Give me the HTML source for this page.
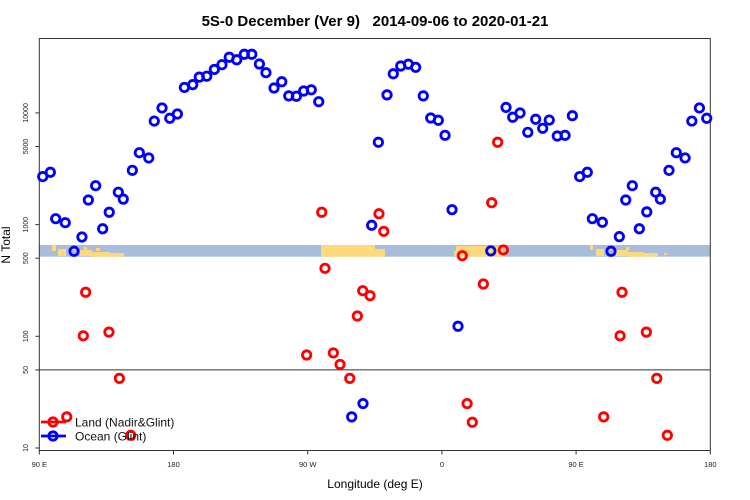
<!DOCTYPE html>
<html><head><meta charset="utf-8">
<style>
html,body{margin:0;padding:0;background:#fff;}
svg{display:block;font-family:"Liberation Sans",sans-serif;}
</style></head>
<body>
<svg id="chart" width="750" height="500" viewBox="0 0 750 500" xmlns="http://www.w3.org/2000/svg">
<text x="375" y="26" text-anchor="middle" font-size="15" font-weight="bold" style="white-space:pre" xml:space="preserve">5S-0 December (Ver 9)   2014-09-06 to 2020-01-21</text>
<g id="strip"></g>
<g id="axes"></g>
<g id="marks"></g>
<g id="legend"></g>
</svg>
<script>
const yTicks = [10, 50, 100, 500, 1000, 5000, 10000];
const xTickLons = [90, 180, 270, 360, 450, 540];
const xTickLabels = ["90 E", "180", "90 W", "0", "90 E", "180"];
const oceanLon = [92.3,97.4,101,107.4,113.3,118.6,122.9,127.8,132.5,136.9,143,146.3,152.4,157.1,163.4,167.1,172.3,177.5,182.6,187.3,192.9,197.3,202.3,207.4,212.5,217.4,222.4,227.5,232.5,237.6,242,247.4,252.6,257.3,262.4,267.3,272.4,277.4,299.5,307.1,312.9,317.4,323.2,327.4,332.4,337.5,342.4,347.5,352.5,357.6,362.1,366.8,370.8,392.8,403,407.5,412.4,417.6,422.9,427.6,432,437.4,442.6,447.5,452.4,457.5,460.9,467.6,473.4,479,483.3,487.7,492.4,497.4,503.4,506.5,512.3,517.2,523.1,527.6,532.7,537.6];
const oceanN = [2690,2940,1130,1040,577,774,1660,2230,918,1290,1950,1690,3060,4400,3950,8450,11070,8950,9780,16900,17900,20900,21300,24500,27000,31500,29900,33500,33500,27400,22900,16700,19000,14200,14100,15700,16100,12600,19,25,986,5460,14500,22400,26300,27300,25600,14200,9000,8590,6300,1360,123,581,11200,9140,9980,6700,8770,7280,8630,6210,6300,9440,2690,2940,1130,1050,577,780,1660,2230,918,1300,1950,1690,3060,4400,3950,8450,11070,8950];
const landLon = [108.4,119.5,121.1,136.7,143.7,151.3,269.3,279.4,281.6,287.2,291.7,298.2,303.3,306.9,311.8,317.8,321,373.7,376.9,380.4,387.8,393.4,397.4,401.2,468.5,479.5,480.8,497.1,504.1,511.2];
const landN = [19,101,248,109,42,13,68,1290,406,71,56,42,152,256,231,1250,871,527,25,17,294,1570,5460,593,19,101,248,109,42,13];

const NS='http://www.w3.org/2000/svg';
const L=39.3,R=710.3,T=38.5,B=450.5;
const xS=l=>L+(l-90)*(R-L)/450;
const yS=v=>448-111.7*Math.log10(v/10);
function mk(tag,attrs,parent){const e=document.createElementNS(NS,tag);for(const k in attrs)e.setAttribute(k,attrs[k]);parent.appendChild(e);return e;}

const strip=document.getElementById('strip');
const sb=mk('rect',{x:L,y:245,width:R-L,height:11.7,fill:'#a7bddb'},strip);


const lands=[[321,245,54,11.7],[375,249,10,7.7],[456,246,47,10.7],[454,251,4,5],[52,245,4,6],[58,249,8,7],[70,246,6,4],[80,250,12,6],[92,252,18,4.7],[110,253,14,3.7],[84,247,3,3],[96,248,4,3],[590,245,3,5],[596,249,8,7],[608,246,4,4],[616,250,12,6],[628,252,16,4.7],[644,253,14,3.7],[626,247,3,3],[664,253,3,2]];
lands.forEach(a=>{
  const r=mk('rect',{x:a[0],y:a[1],width:a[2],height:a[3],fill:'#fdd97c'},strip);
  
  
});

const ax=document.getElementById('axes');
const box=mk('rect',{x:L,y:T,width:R-L,height:B-T,fill:'none',stroke:'#333','stroke-width':1},ax);


const ref=mk('line',{x1:L,x2:R,y1:yS(50),y2:yS(50),stroke:'#333','stroke-width':1},ax);


yTicks.forEach(v=>{
  const y=yS(v);
  const t=mk('line',{x1:L-4,x2:L,y1:y,y2:y,stroke:'#333'},ax);
  
  
  const tx=mk('text',{x:0,y:0,'font-size':7,'text-anchor':'middle',transform:`translate(28,${y}) rotate(-90)`,fill:'#222'},ax);
  tx.textContent=v;
  
  
});
xTickLons.forEach((l,i)=>{
  const x=xS(l);
  const t=mk('line',{x1:x,x2:x,y1:B,y2:B+4,stroke:'#333'},ax);
  
  
  const tx=mk('text',{x:x,y:467,'font-size':7.5,'text-anchor':'middle',fill:'#222'},ax);
  tx.textContent=xTickLabels[i];
  
  
});
const xl=mk('text',{x:375,y:488,'font-size':12,'text-anchor':'middle'},ax);
xl.textContent='Longitude (deg E)';


const yl=mk('text',{x:0,y:0,'font-size':12,'text-anchor':'middle',transform:'translate(10,245) rotate(-90)'},ax);
yl.textContent='N Total';



const mg=document.getElementById('marks');
oceanLon.forEach((l,i)=>{
  const c=mk('circle',{cx:xS(l),cy:yS(oceanN[i]),r:4.2,fill:'none',stroke:'#0000ff','stroke-width':2.8},mg);
  
  
});
landLon.forEach((l,i)=>{
  const c=mk('circle',{cx:xS(l),cy:yS(landN[i]),r:4.2,fill:'none',stroke:'#ff0000','stroke-width':2.8},mg);
  
  
});

const lg=document.getElementById('legend');
[['Land (Nadir&Glint)','#ff0000',422,'legend-entry-land'],['Ocean (Glint)','#0000ff',436,'legend-entry-ocean']].forEach(e=>{
  const g=mk('g',{},lg);
  
  
  mk('line',{x1:41,x2:66,y1:e[2],y2:e[2],stroke:e[1],'stroke-width':2.8},g);
  mk('circle',{cx:53,cy:e[2],r:4.2,fill:'none',stroke:e[1],'stroke-width':2.8},g);
  const t=mk('text',{x:75,y:e[2]+4.5,'font-size':12,fill:'#111'},g);
  t.textContent=e[0];
});
</script>
</body></html>
